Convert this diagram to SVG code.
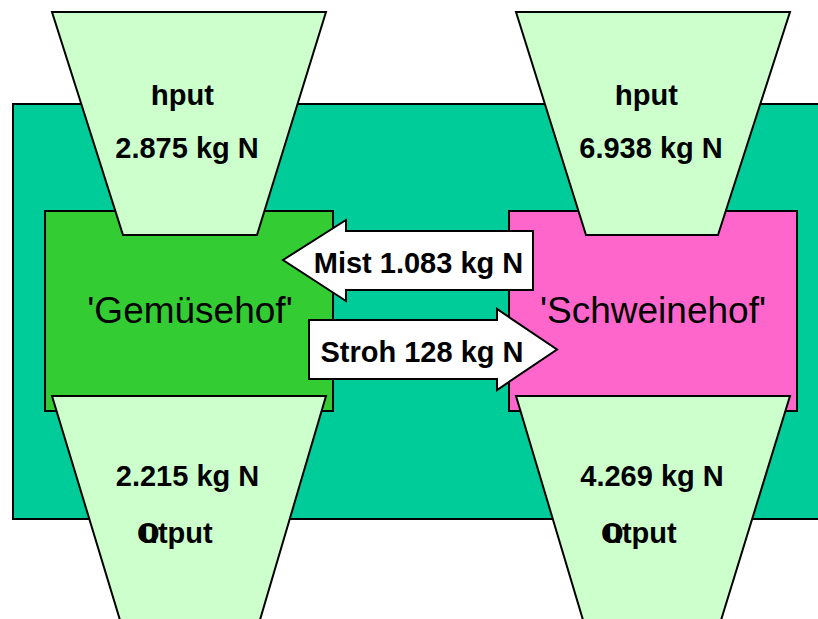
<svg xmlns="http://www.w3.org/2000/svg" width="818" height="619" viewBox="0 0 818 619">
  <style>
    .ln { stroke: #000; stroke-width: 2; stroke-linejoin: miter; }
    .bg { fill: #00CC99; }
    .farm1 { fill: #33CC33; }
    .farm2 { fill: #FF66CC; }
    .trap { fill: #CCFFCC; }
    .arrow { fill: #FFFFFF; }
    .b { font-family: "Liberation Sans", Arial, sans-serif; font-weight: bold; font-size: 29px; fill: #000; }
    .r { font-family: "Liberation Sans", Arial, sans-serif; font-size: 37px; fill: #000; }
  </style>
  <rect width="818" height="619" fill="#FFFFFF"/>
  <g id="system">
    <rect class="bg ln" x="13" y="104" width="830" height="415"/>
  </g>
  <g id="gemuesehof">
    <rect class="farm1 ln" x="45" y="211" width="288" height="200"/>
  </g>
  <g id="schweinehof">
    <rect class="farm2 ln" x="509" y="211" width="288" height="200"/>
  </g>
  <g id="connectors">
    <polygon class="arrow ln" points="283,260 346,220 346,231 533,231 533,290 346,290 346,301"/>
    <polygon class="arrow ln" points="309,320 497,320 497,309 557,349.5 497,390 497,379 309,379"/>
    <text class="b" x="418.5" y="273" text-anchor="middle">Mist 1.083 kg N</text>
    <text class="b" x="422" y="362" text-anchor="middle">Stroh 128 kg N</text>
  </g>
  <g id="input-gemuesehof">
    <polygon class="trap ln" points="52,12 326,12 257,235 123,235"/>
    <text class="b" x="151" y="105">I<tspan dx="-8.07">nput</tspan></text>
    <text class="b" x="187" y="158" text-anchor="middle">2.875 kg N</text>
  </g>
  <g id="input-schweinehof">
    <polygon class="trap ln" points="516,12 790,12 718,235 586,235"/>
    <text class="b" x="615" y="105">I<tspan dx="-8.07">nput</tspan></text>
    <text class="b" x="651" y="158" text-anchor="middle">6.938 kg N</text>
  </g>
  <g id="output-gemuesehof">
    <polygon class="trap ln" points="52,396 326,396 257,630 123,630"/>
    <text class="b" x="187.5" y="486" text-anchor="middle">2.215 kg N</text>
    <text class="b" x="137" y="543">O<tspan dx="-19.3">utput</tspan></text>
  </g>
  <g id="output-schweinehof">
    <polygon class="trap ln" points="516,396 790,396 718,630 586,630"/>
    <text class="b" x="652" y="486" text-anchor="middle">4.269 kg N</text>
    <text class="b" x="601" y="543">O<tspan dx="-19.3">utput</tspan></text>
  </g>
  <text class="r" x="190" y="323" text-anchor="middle">'Gemüsehof'</text>
  <text class="r" x="653" y="323" text-anchor="middle">'Schweinehof'</text>
</svg>
